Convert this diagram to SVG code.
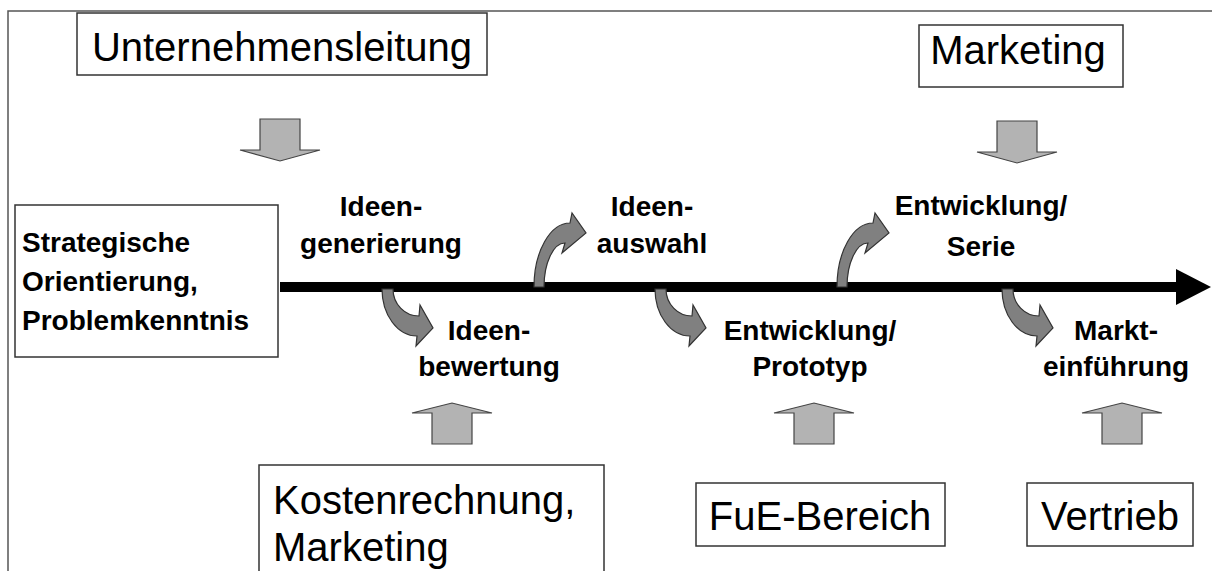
<svg xmlns="http://www.w3.org/2000/svg" xmlns:xlink="http://www.w3.org/1999/xlink" width="1212" height="571" viewBox="0 0 1212 571">
<style>
.box{fill:#fff;stroke:#333;stroke-width:1.5}
.big{font-family:"Liberation Sans",Arial,sans-serif;font-size:40px;fill:#000}
.lbl{font-family:"Liberation Sans",Arial,sans-serif;font-size:28px;font-weight:bold;fill:#000}
.blk{fill:#b3b3b3;stroke:#444;stroke-width:1.2;stroke-linejoin:miter}
.crv{fill:#808080;stroke:#333;stroke-width:1.2;stroke-linejoin:miter}
.frame{stroke:#555;stroke-width:1.5;fill:none}
</style>
<defs>
<path id="down" class="blk" d="M-20,0 H20 V31 H40 L0,42 L-40,31 H-20 Z"/>
<path id="up" class="blk" d="M-20,0 H20 V-31 H40 L0,-41 L-40,-31 H-20 Z"/>
<path id="cdown" class="crv" d="M0,0 A35,47 0 0 0 35,47 L34,57 L51,39 L38,16 L37,27 A26,27 0 0 1 11,0 Z"/>
<path id="cup" class="crv" d="M0,0 A36,64 0 0 1 36,-64 L38,-74 L52,-54 L28,-34 L31,-44 A21,44 0 0 0 10,0 Z"/>
</defs>
<rect width="1212" height="571" fill="#fff"/>
<path class="frame" d="M8,571 V11 H1212"/>

<g id="n-unternehmensleitung">
<rect class="box" x="77" y="13" width="410" height="62"/>
<text class="big" x="282" y="61" text-anchor="middle">Unternehmensleitung</text>
</g>
<g id="n-marketing-top">
<rect class="box" x="919" y="25" width="204" height="62"/>
<text class="big" x="1018" y="64" text-anchor="middle">Marketing</text>
</g>
<g id="n-strategische">
<rect class="box" x="15" y="205" width="263" height="152"/>
<text class="lbl" x="22" y="252">Strategische</text>
<text class="lbl" x="22" y="291">Orientierung,</text>
<text class="lbl" x="22" y="330">Problemkenntnis</text>
</g>
<g id="n-kosten">
<rect class="box" x="259" y="465" width="345" height="120"/>
<text class="big" x="273" y="514">Kostenrechnung,</text>
<text class="big" x="273" y="561">Marketing</text>
</g>
<g id="n-fue">
<rect class="box" x="696" y="483" width="249" height="63"/>
<text class="big" x="820" y="530" text-anchor="middle">FuE-Bereich</text>
</g>
<g id="n-vertrieb">
<rect class="box" x="1027" y="483" width="166" height="63"/>
<text class="big" x="1110" y="530" text-anchor="middle">Vertrieb</text>
</g>

<g id="connectors">
<rect x="280" y="282" width="897" height="10" fill="#000"/>
<polygon points="1176,269 1211,287 1176,305" fill="#000"/>
<use xlink:href="#down" x="280" y="119"/>
<use xlink:href="#down" x="1017" y="121"/>
<use xlink:href="#up" x="452" y="444"/>
<use xlink:href="#up" x="814" y="444"/>
<use xlink:href="#up" x="1122" y="444"/>
<use xlink:href="#cdown" x="382" y="289"/>
<use xlink:href="#cdown" x="655" y="289"/>
<use xlink:href="#cdown" x="1002" y="289"/>
<use xlink:href="#cup" x="534" y="287"/>
<use xlink:href="#cup" x="837" y="287"/>
</g>

<g id="s-ideengenerierung">
<text class="lbl" x="381" y="216" text-anchor="middle">Ideen-</text>
<text class="lbl" x="381" y="253" text-anchor="middle">generierung</text>
</g>
<g id="s-ideenauswahl">
<text class="lbl" x="652" y="216" text-anchor="middle">Ideen-</text>
<text class="lbl" x="652" y="253" text-anchor="middle">auswahl</text>
</g>
<g id="s-serie">
<text class="lbl" x="981" y="215" text-anchor="middle">Entwicklung/</text>
<text class="lbl" x="981" y="256" text-anchor="middle">Serie</text>
</g>
<g id="s-ideenbewertung">
<text class="lbl" x="489" y="340" text-anchor="middle">Ideen-</text>
<text class="lbl" x="489" y="376" text-anchor="middle">bewertung</text>
</g>
<g id="s-prototyp">
<text class="lbl" x="810" y="340" text-anchor="middle">Entwicklung/</text>
<text class="lbl" x="810" y="376" text-anchor="middle">Prototyp</text>
</g>
<g id="s-markteinfuehrung">
<text class="lbl" x="1116" y="340" text-anchor="middle">Markt-</text>
<text class="lbl" x="1116" y="376" text-anchor="middle">einführung</text>
</g>
</svg>
